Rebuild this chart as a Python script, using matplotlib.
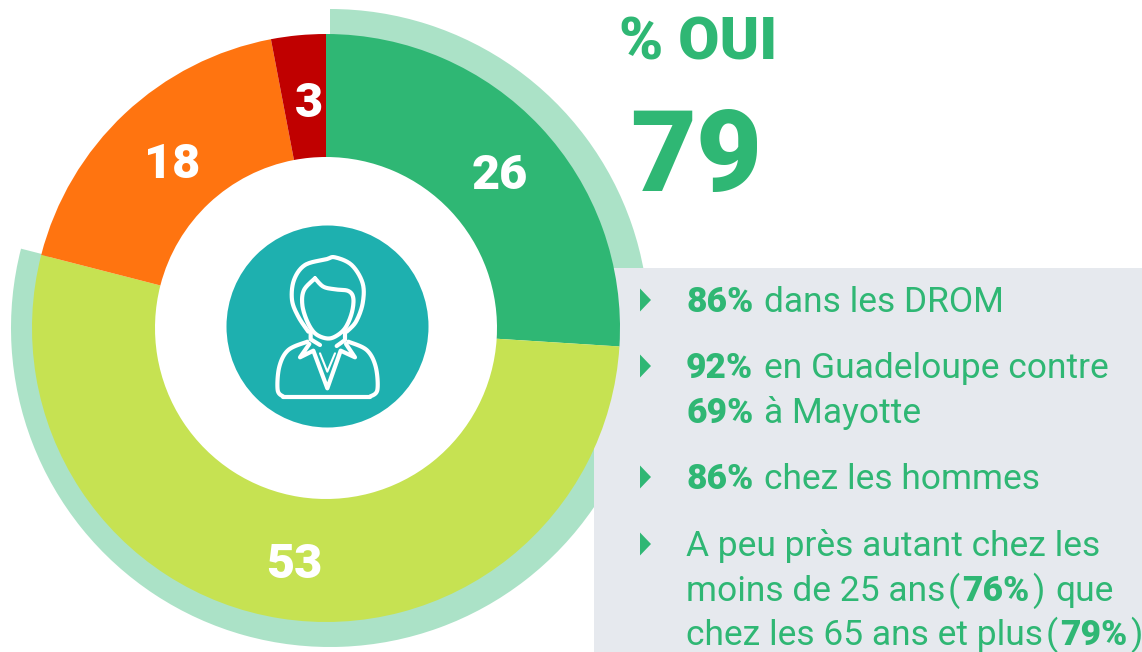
import numpy as np
import matplotlib
matplotlib.use("Agg")
import matplotlib.pyplot as plt
from matplotlib.patches import Rectangle, Circle, Polygon

slice_values = [26, 53, 18, 3]
slice_colors = ['#2FB774', '#C6E252', '#FF7410', '#C00000']
slice_labels = ['26', '53', '18', '3']
oui_share = [79, 21]
headline_title = '% OUI'
headline_value = '79'
bullet_lines = [
    [[('86%', True), (' dans les DROM', False)]],
    [[('92%', True), (' en Guadeloupe contre', False)], [('69%', True), (' à Mayotte', False)]],
    [[('86%', True), (' chez les hommes', False)]],
    [[('A peu près autant chez les', False)],
     [('moins de 25 ans', False), ('(', False), ('76%', True), (')', False), (' que', False)],
     [('chez les 65 ans et plus', False), ('(', False), ('79%', True), (')', False)]],
]

W, H = 1142, 652
GREEN = '#2FB774'
FONT = 'Roboto'
fig = plt.figure(figsize=(W / 100, H / 100), dpi=100)
ax = fig.add_axes([0, 0, 1, 1])


def Y(y):
    return H - y


# outer ring
ax.pie(oui_share, colors=['#ABE2C7', 'none'], startangle=90, counterclock=False,
       radius=319, center=(330, Y(328)), frame=True,
       wedgeprops=dict(width=30, linewidth=0, zorder=1))
# grey panel
ax.add_patch(Rectangle((594, 0), W - 594, H - 268, fc='#E6E9EE', ec='none', zorder=2))
# donut
ax.pie(slice_values, colors=slice_colors, startangle=90, counterclock=False,
       radius=294, center=(326, Y(328)), frame=True,
       wedgeprops=dict(width=123, linewidth=0, zorder=3))
ax.set_xlim(0, W)
ax.set_ylim(0, H)
ax.set_aspect('auto')
ax.axis('off')

# slice labels
label_pos = [(500, 176), (294, 565), (172, 165), (309, 104)]
for s, (x, y) in zip(slice_labels, label_pos):
    ax.text(x, Y(y), s, color='white', fontsize=35, fontweight='black', family=FONT,
            ha='center', va='center', zorder=5)

# headline
ax.text(698, Y(43), headline_title, color=GREEN, fontsize=43, fontweight='black', family=FONT,
        ha='center', va='center', zorder=5)
ax.text(696, Y(160), headline_value, color=GREEN, fontsize=82, fontweight='black', family=FONT,
        ha='center', va='center', zorder=5)

# icon
ax.add_patch(Circle((327.5, Y(326.5)), 101, fc='#1EB0AF', ec='none', zorder=4))


def catmull(pts, n=14):
    p = np.array(pts, float)
    p = np.vstack([p[0], p, p[-1]])
    out = []
    for i in range(1, len(p) - 2):
        for t in np.linspace(0, 1, n, endpoint=False):
            a, b, c, d = p[i - 1], p[i], p[i + 1], p[i + 2]
            out.append(0.5 * ((2 * b) + (c - a) * t + (2 * a - 5 * b + 4 * c - d) * t ** 2
                              + (3 * b - a - 3 * c + d) * t ** 3))
    out.append(p[-2])
    return np.array(out)


def icon_line(pts, smooth=True, lw=3.0):
    q = catmull(pts) if smooth else np.array(pts, float)
    x = 220 + q[:, 0] / 3
    y = Y(220 + q[:, 1] / 3)
    ax.plot(x, y, color='white', lw=lw, solid_capstyle='round', solid_joinstyle='round', zorder=6)


# hair outline
icon_line([(265, 335), (235, 290), (216, 240), (222, 180), (255, 135), (318, 118), (345, 112),
           (395, 135), (428, 190), (428, 250), (408, 305), (380, 335)])
# fringe and face
icon_line([(285, 175), (310, 200), (345, 208), (385, 213), (400, 235), (395, 280), (375, 325),
           (345, 350), (318, 355), (285, 340), (262, 305), (247, 255), (252, 210), (285, 175)])
# neck
icon_line([(272, 335), (272, 358), (300, 375)], smooth=False)
icon_line([(375, 335), (375, 360), (350, 378)], smooth=False)
# shoulders
icon_line([(262, 365), (205, 390), (178, 440), (173, 510), (190, 530)], lw=3.0)
icon_line([(190, 530), (450, 530)], smooth=False)
icon_line([(450, 530), (472, 510), (467, 440), (440, 390), (385, 365)])
# collar
icon_line([(268, 372), (240, 412), (280, 392), (322, 505), (362, 392), (405, 412), (378, 372)], smooth=False)
icon_line([(300, 400), (322, 455), (345, 400)], smooth=False, lw=1.5)

# bullet text
fig.canvas.draw()
rend = fig.canvas.get_renderer()


def rich(x, y, parts):
    for s, bold in parts:
        lead = 8.5 if s.startswith(' ') else 0
        body = s.strip(' ')
        t = ax.text(x + lead, Y(y), body, color=GREEN, fontsize=25.5, family=FONT,
                    fontweight='black' if bold else 'normal', ha='left', va='baseline', zorder=5)
        bb = t.get_window_extent(rend)
        x = x + lead + bb.width + 2.5


baselines = [[312], [378, 423], [489], [556, 601, 645]]
bullet_y = [300, 366, 477, 544]
for lines, bases, by in zip(bullet_lines, baselines, bullet_y):
    ax.add_patch(Polygon([(640, Y(by - 11.5)), (640, Y(by + 11.5)), (651, Y(by))],
                         closed=True, fc=GREEN, ec='none', zorder=5))
    for parts, b in zip(lines, bases):
        rich(686, b, parts)

fig.savefig('out.png', dpi=100)
